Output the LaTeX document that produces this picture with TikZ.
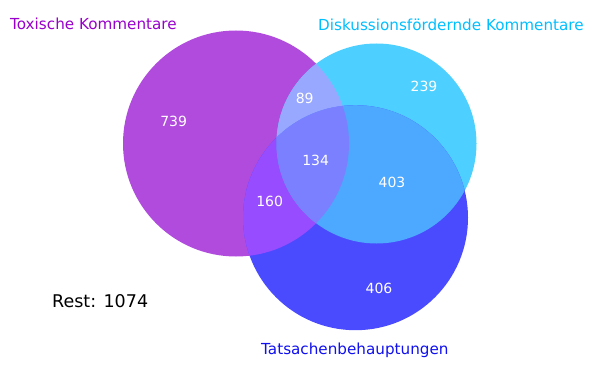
\documentclass[tikz,border=0pt]{standalone}
\usepackage{fontspec}
\setmainfont{DejaVu Sans}
\definecolor{cP}{HTML}{B04BDD}
\definecolor{cC}{HTML}{4DD0FF}
\definecolor{cB}{HTML}{4A4AFF}
\definecolor{cPC}{HTML}{98A8FF}
\definecolor{cPB}{HTML}{984CFF}
\definecolor{cCB}{HTML}{4DA8FF}
\definecolor{cPCB}{HTML}{7A80FF}
\definecolor{tP}{HTML}{9900CC}
\definecolor{tC}{HTML}{00BFFF}
\definecolor{tB}{HTML}{1010F0}
\begin{document}
\begin{tikzpicture}[x=1pt,y=1pt,
  num/.style={text=white,font=\fontsize{14}{16}\selectfont,inner sep=0pt},
  lab/.style={font=\fontsize{15.2}{18}\selectfont,inner sep=0pt,anchor=base west}]
\useasboundingbox[fill=white] (0,0) rectangle (604,367);
\coordinate (P) at (236,223.5);
\coordinate (C) at (376.5,223.5);
\coordinate (B) at (355.5,149.3);
\def\rP{113}\def\rC{100}\def\rB{112.5}
\fill[cP] (P) circle (\rP);
\fill[cC] (C) circle (\rC);
\fill[cB] (B) circle (\rB);
\begin{scope}\clip (P) circle (\rP); \fill[cPC] (C) circle (\rC); \end{scope}
\begin{scope}\clip (P) circle (\rP); \fill[cPB] (B) circle (\rB); \end{scope}
\begin{scope}\clip (C) circle (\rC); \fill[cCB] (B) circle (\rB); \end{scope}
\begin{scope}\clip (P) circle (\rP); \clip (C) circle (\rC); \fill[cPCB] (B) circle (\rB); \end{scope}
\node[num] (n739) at (173.7,246) {739};
\node[num] (n89) at (304.7,268.3) {89};
\node[num] (n134) at (315.7,206.3) {134};
\node[num] (n160) at (269.7,165.7) {160};
\node[num] (n239) at (424,280.3) {239};
\node[num] (n403) at (392,184.5) {403};
\node[num] (n406) at (379,78.7) {406};
\node[lab,text=tP] (lP) at (10,337) {Toxische Kommentare};
\node[lab,text=tC] (lC) at (318,336.5) {Diskussionsfördernde Kommentare};
\node[lab,text=tB] (lB) at (261,13) {Tatsachenbehauptungen};
\node[inner sep=0pt,anchor=base west,font=\fontsize{17.5}{20}\selectfont] (rest) at (52,60) {Rest: 1074};
\end{tikzpicture}
\end{document}
